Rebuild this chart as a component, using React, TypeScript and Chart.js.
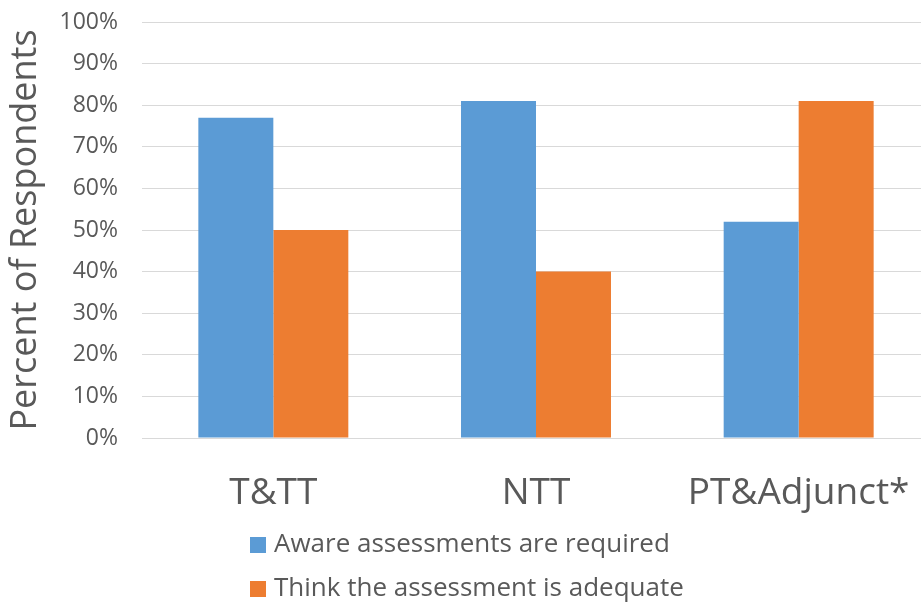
import React, { useEffect, useRef } from "react";
import { Chart, registerables } from "chart.js";

Chart.register(...registerables);

const categories = ["T&TT", "NTT", "PT&Adjunct*"];
const seriesNames = ["Aware assessments are required", "Think the assessment is adequate"];
const awareValues = [77, 81, 52];
const adequateValues = [50, 40, 81];
const yTicks = [0, 10, 20, 30, 40, 50, 60, 70, 80, 90, 100];
const colors = ["#5B9BD5", "#ED7D31"];
const textColor = "#595959";
const fontFamily = "'Open Sans', 'Noto Sans', sans-serif";

const legendPlugin = {
  id: "stackedLegend",
  afterDraw(chart: any) {
    const ctx = chart.ctx;
    ctx.save();
    ctx.font = `26px ${fontFamily}`;
    ctx.textBaseline = "middle";
    ctx.textAlign = "left";
    const rows = [545, 589];
    chart.data.datasets.forEach((ds: any, i: number) => {
      const y = rows[i];
      ctx.fillStyle = ds.backgroundColor;
      ctx.fillRect(250, y - 8, 16, 16);
      ctx.fillStyle = textColor;
      ctx.fillText(ds.label, 274, y);
    });
    ctx.restore();
  },
};

export default function App() {
  const ref = useRef<HTMLCanvasElement>(null);
  useEffect(() => {
    document.body.style.overflow = "hidden";
    const chart = new Chart(ref.current!, {
      type: "bar",
      data: {
        labels: categories,
        datasets: [
          { label: seriesNames[0], data: awareValues, backgroundColor: colors[0] },
          { label: seriesNames[1], data: adequateValues, backgroundColor: colors[1] },
        ],
      },
      options: {
        animation: false,
        responsive: false,
        layout: { padding: { top: 22, left: 0, right: 0, bottom: 0 } },
        datasets: { bar: { categoryPercentage: 0.571, barPercentage: 1 } },
        plugins: { legend: { display: false }, tooltip: { enabled: false } },
        scales: {
          x: {
            grid: { display: false, drawTicks: false },
            border: { display: false },
            ticks: { color: textColor, font: { family: fontFamily, size: 37 }, padding: 33, maxRotation: 0 },
            afterFit(scale: any) {
              scale.height = 165;
              scale.paddingLeft = 0;
              scale.paddingRight = 0;
            },
          },
          y: {
            min: 0,
            max: 100,
            afterBuildTicks(scale: any) { scale.ticks = yTicks.map((v) => ({ value: v })); },
            grid: { color: "#D9D9D9", drawTicks: false, lineWidth: 1 },
            border: { display: false },
            ticks: {
              color: textColor,
              font: { family: fontFamily, size: 23 },
              padding: 24,
              callback: (v: any) => v + "%",
            },
            title: {
              display: true,
              text: "Percent of Respondents",
              color: textColor,
              font: { family: fontFamily, size: 36 },
              padding: { top: 4, bottom: 0 },
            },
            afterFit(scale: any) {
              scale.width = 142;
              scale.paddingTop = 0;
              scale.paddingBottom = 0;
            },
          },
        },
      },
      plugins: [legendPlugin],
    });
    return () => chart.destroy();
  }, []);
  return (
    <div style={{ position: "fixed", left: 0, top: 0, width: 930, height: 603 }}>
      <canvas ref={ref} width={930} height={603} style={{ width: 930, height: 603 }} />
    </div>
  );
}
